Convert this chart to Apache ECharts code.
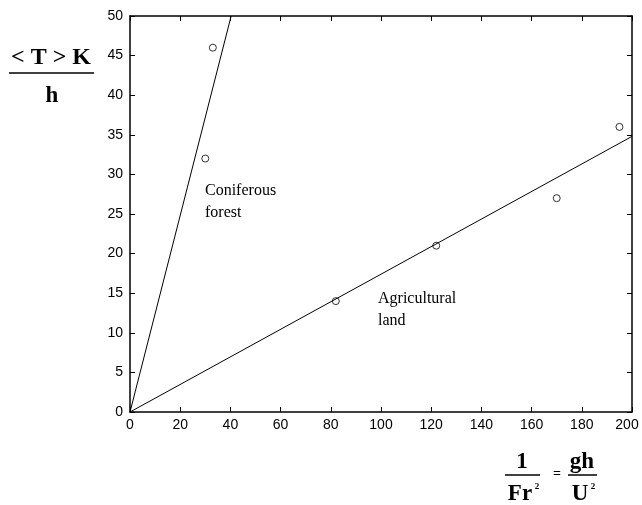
<!DOCTYPE html>
<html><head><meta charset="utf-8">
<script src="https://cdn.jsdelivr.net/npm/echarts@6/dist/echarts.min.js"></script>
<style>html,body{margin:0;padding:0;background:#fff}#c{width:642px;height:505px}</style>
</head><body><div id="c"></div>
<script>
const coniferousPts = [[33, 46], [30, 32]];
const agriculturalPts = [[82, 14], [122, 21], [170, 27], [195, 36]];
const coniferousFit = [[0, 0], [40.3, 50]];
const agriculturalFit = [[0, 0], [200, 34.8]];
const xTicks = {min: 0, max: 200, interval: 20};
const yTicks = {min: 0, max: 50, interval: 5};

const chart = echarts.init(document.getElementById('c'));
const axLine = {show: true, onZero: false, lineStyle: {color: '#000', width: 1.5}};
const tick = {show: true, inside: true, length: 5, lineStyle: {color: '#000', width: 1}};
const lbl = {color: '#000', fontFamily: 'Liberation Sans', fontSize: 14};
chart.setOption({
  animation: false,
  grid: {left: 130, top: 16, right: 10, bottom: 93, containLabel: false, outerBoundsMode: 'none'},
  xAxis: [
    {type: 'value', position: 'bottom', min: xTicks.min, max: xTicks.max, interval: xTicks.interval,
     axisLine: axLine, axisTick: tick,
     axisLabel: Object.assign({margin: 6,
       formatter: function (v) { return v === xTicks.max ? '{m|' + v + '}' : String(v); },
       rich: {m: {color: '#000', fontFamily: 'Liberation Sans', fontSize: 14, padding: [0, 10, 0, 0]}}}, lbl),
     splitLine: {show: false}},
    {type: 'value', position: 'top', min: xTicks.min, max: xTicks.max, interval: xTicks.interval,
     axisLine: axLine, axisTick: tick, axisLabel: {show: false}, splitLine: {show: false}}
  ],
  yAxis: [
    {type: 'value', position: 'left', min: yTicks.min, max: yTicks.max, interval: yTicks.interval,
     axisLine: axLine, axisTick: tick, axisLabel: Object.assign({margin: 7}, lbl), splitLine: {show: false}},
    {type: 'value', position: 'right', min: yTicks.min, max: yTicks.max, interval: yTicks.interval,
     axisLine: axLine, axisTick: tick, axisLabel: {show: false}, splitLine: {show: false}}
  ],
  series: [
    {type: 'line', data: coniferousFit, symbol: 'none', lineStyle: {color: '#000', width: 1}},
    {type: 'line', data: agriculturalFit, symbol: 'none', lineStyle: {color: '#000', width: 1}},
    {type: 'scatter', data: coniferousPts, symbol: 'circle', symbolSize: 7,
     itemStyle: {color: '#fff', borderColor: '#000', borderWidth: 1}},
    {type: 'scatter', data: agriculturalPts, symbol: 'circle', symbolSize: 7,
     itemStyle: {color: '#fff', borderColor: '#000', borderWidth: 1}}
  ],
  graphic: [
    {type: 'text', left: 205, top: 180, style: {text: 'Coniferous\nforest', font: '16px "Liberation Serif"', fill: '#000', lineHeight: 22}},
    {type: 'text', left: 378, top: 288, style: {text: 'Agricultural\nland', font: '16px "Liberation Serif"', fill: '#000', lineHeight: 22}},
    {type: 'text', x: 51, y: 58, style: {text: '< T > K', font: 'bold 24px "Liberation Serif"', fill: '#000', align: 'center', verticalAlign: 'middle'}},
    {type: 'line', shape: {x1: 9, y1: 73, x2: 94, y2: 73}, style: {stroke: '#000', lineWidth: 1.5}},
    {type: 'text', x: 52, y: 96, style: {text: 'h', font: 'bold 23px "Liberation Serif"', fill: '#000', align: 'center', verticalAlign: 'middle'}},
    {type: 'text', x: 522, y: 462, style: {text: '1', font: 'bold 23px "Liberation Serif"', fill: '#000', align: 'center', verticalAlign: 'middle'}},
    {type: 'line', shape: {x1: 505, y1: 475, x2: 540, y2: 475}, style: {stroke: '#000', lineWidth: 1.5}},
    {type: 'text', x: 520, y: 494, style: {text: 'Fr', font: 'bold 23px "Liberation Serif"', fill: '#000', align: 'center', verticalAlign: 'middle'}},
    {type: 'text', x: 537, y: 487, style: {text: '2', font: 'bold 9px "Liberation Serif"', fill: '#000', align: 'center', verticalAlign: 'middle'}},
    {type: 'text', x: 557, y: 474, style: {text: '=', font: 'bold 14px "Liberation Serif"', fill: '#000', align: 'center', verticalAlign: 'middle'}},
    {type: 'text', x: 582, y: 462, style: {text: 'gh', font: 'bold 23px "Liberation Serif"', fill: '#000', align: 'center', verticalAlign: 'middle'}},
    {type: 'line', shape: {x1: 568, y1: 475, x2: 597, y2: 475}, style: {stroke: '#000', lineWidth: 1.5}},
    {type: 'text', x: 580, y: 494, style: {text: 'U', font: 'bold 23px "Liberation Serif"', fill: '#000', align: 'center', verticalAlign: 'middle'}},
    {type: 'text', x: 593, y: 487, style: {text: '2', font: 'bold 9px "Liberation Serif"', fill: '#000', align: 'center', verticalAlign: 'middle'}}
  ]
});
</script></body></html>
